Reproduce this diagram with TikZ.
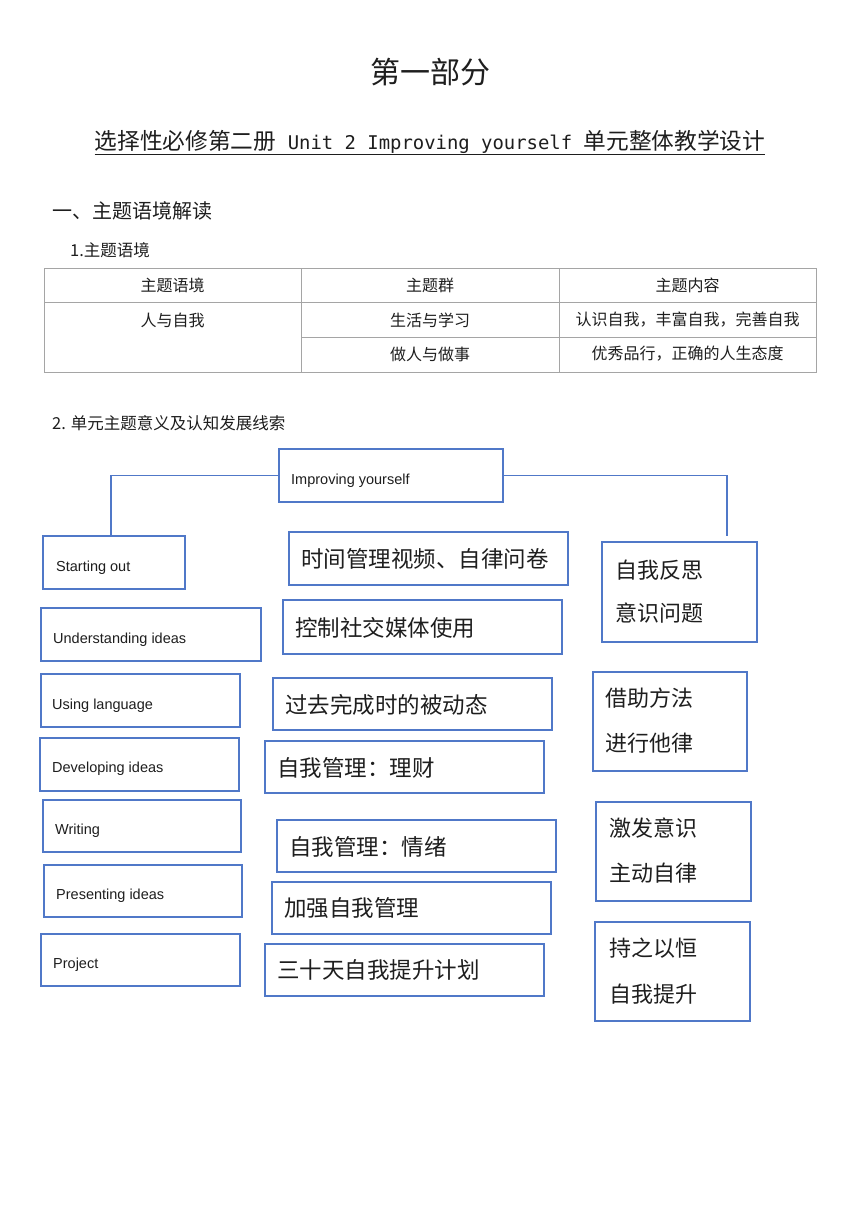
\documentclass[tikz,border=0pt]{standalone}
\usepackage{fontspec}
\setmainfont{Liberation Sans}
\newfontfamily\cjk{Noto Sans CJK SC}
\newfontfamily\arl{Liberation Sans}
\newfontfamily\mno{DejaVu Sans Mono}
\definecolor{bx}{RGB}{80,120,200}
\definecolor{tl}{RGB}{165,165,165}
\definecolor{tx}{RGB}{30,30,30}
\begin{document}
\begin{tikzpicture}[x=1pt,y=-1pt,
  bbox/.style={draw=bx, line width=1.5pt, inner sep=0pt, outer sep=0pt},
  conn/.style={draw=bx, line width=1.5pt},
  tline/.style={draw=tl, line width=0.9pt},
  etext/.style={anchor=west, inner sep=0pt, text=tx, font=\arl\fontsize{14.5}{17}\selectfont},
  ctext/.style={anchor=west, inner sep=0pt, text=tx, font=\cjk\fontsize{22.5}{27}\selectfont},
  rtext/.style={anchor=west, inner sep=0pt, text=tx, font=\cjk\fontsize{22}{26}\selectfont},
  ttext/.style={inner sep=0pt, text=tx, font=\cjk\fontsize{16}{19}\selectfont},
  htext/.style={inner sep=0pt, text=tx, anchor=west, font=\cjk\fontsize{16.5}{19}\selectfont}]
\fill[white] (0,0) rectangle (860,1216);
\useasboundingbox (0,0) rectangle (860,1216);

% titles
\node[inner sep=0pt, text=tx, font=\cjk\fontsize{30}{34}\selectfont] (title) at (430,72) {第一部分};
\node[inner sep=0pt, text=tx, font=\fontsize{22.7}{26}\selectfont] (sub) at (430,142)
  {{\cjk 选择性必修第二册}{\mno\fontsize{18.9}{22}\selectfont\ Unit 2 Improving yourself\ }{\cjk 单元整体教学设计}};
\draw[tx, line width=1pt] ([yshift=-1pt]sub.south west) -- ([yshift=-1pt]sub.south east);
\node[htext, font=\cjk\fontsize{20}{24}\selectfont] (sec1) at (52,211) {一、主题语境解读};
\node[htext] (sec11) at (70,250) {1.主题语境};

% table
\draw[tline] (44,268) rectangle (816,372);
\draw[tline] (44,302) -- (816,302);
\draw[tline] (301,337) -- (816,337);
\draw[tline] (301,268) -- (301,372);
\draw[tline] (559,268) -- (559,372);
\node[ttext] (t11) at (172.5,285) {主题语境};
\node[ttext] (t12) at (430,285) {主题群};
\node[ttext] (t13) at (687.5,285) {主题内容};
\node[ttext] (t21) at (172.5,320) {人与自我};
\node[ttext] (t22) at (430,320) {生活与学习};
\node[ttext] (t23) at (687.5,320) {认识自我，丰富自我，完善自我};
\node[ttext] (t32) at (430,354) {做人与做事};
\node[ttext] (t33) at (687.5,354) {优秀品行，正确的人生态度};

\node[htext] (sec2) at (52,423) {2. 单元主题意义及认知发展线索};

% root
\node[bbox, minimum width=224pt, minimum height=53pt] (imp) at (391,475.5) {};
\node[etext] (impt) at (291,481) {Improving yourself};

% left column
\node[bbox, minimum width=142pt, minimum height=53pt] (so) at (114,562.5) {};
\node[etext] (sot) at (56,568) {Starting out};
\node[bbox, minimum width=220pt, minimum height=53pt] (ui) at (151,634.5) {};
\node[etext] (uit) at (53,640) {Understanding ideas};
\node[bbox, minimum width=199pt, minimum height=53pt] (ul) at (140.5,700.5) {};
\node[etext] (ult) at (52,706) {Using language};
\node[bbox, minimum width=199pt, minimum height=53pt] (di) at (139.5,764.5) {};
\node[etext] (dit) at (52,769) {Developing ideas};
\node[bbox, minimum width=198pt, minimum height=52pt] (wr) at (142,826) {};
\node[etext] (wrt) at (55,831) {Writing};
\node[bbox, minimum width=198pt, minimum height=52pt] (pi) at (143,891) {};
\node[etext] (pit) at (56,896) {Presenting ideas};
\node[bbox, minimum width=199pt, minimum height=52pt] (pj) at (140.5,960) {};
\node[etext] (pjt) at (53,965) {Project};

% middle column
\node[bbox, minimum width=279pt, minimum height=53pt] (m1) at (428.5,558.5) {};
\node[ctext] (m1t) at (301,559) {时间管理视频、自律问卷};
\node[bbox, minimum width=279pt, minimum height=54pt] (m2) at (422.5,627) {};
\node[ctext] (m2t) at (295,628) {控制社交媒体使用};
\node[bbox, minimum width=279pt, minimum height=52pt] (m3) at (412.5,704) {};
\node[ctext] (m3t) at (285,705) {过去完成时的被动态};
\node[bbox, minimum width=279pt, minimum height=52pt] (m4) at (404.5,767) {};
\node[ctext] (m4t) at (277,768) {自我管理：理财};
\node[bbox, minimum width=279pt, minimum height=52pt] (m5) at (416.5,846) {};
\node[ctext] (m5t) at (289,847) {自我管理：情绪};
\node[bbox, minimum width=279pt, minimum height=52pt] (m6) at (411.5,908) {};
\node[ctext] (m6t) at (284,908) {加强自我管理};
\node[bbox, minimum width=279pt, minimum height=52pt] (m7) at (404.5,970) {};
\node[ctext] (m7t) at (277,970) {三十天自我提升计划};

% right column
\node[bbox, minimum width=155pt, minimum height=100pt] (r1) at (679.5,592) {};
\node[rtext] (r1a) at (615,570) {自我反思};
\node[rtext] (r1b) at (615,613) {意识问题};
\node[bbox, minimum width=154pt, minimum height=99pt] (r2) at (670,721.5) {};
\node[rtext] (r2a) at (605,698) {借助方法};
\node[rtext] (r2b) at (605,743) {进行他律};
\node[bbox, minimum width=155pt, minimum height=99pt] (r3) at (673.5,851.5) {};
\node[rtext] (r3a) at (609,828) {激发意识};
\node[rtext] (r3b) at (609,873) {主动自律};
\node[bbox, minimum width=155pt, minimum height=99pt] (r4) at (672.5,971.5) {};
\node[rtext] (r4a) at (609,948) {持之以恒};
\node[rtext] (r4b) at (609,994) {自我提升};

% connectors
\draw[conn] (imp.west) -| ([xshift=-3pt]so.north);
\coordinate (rc) at (727,536);
\draw[conn] (imp.east) -| (rc);
\end{tikzpicture}
\end{document}
